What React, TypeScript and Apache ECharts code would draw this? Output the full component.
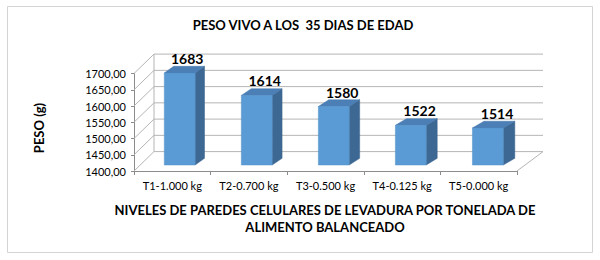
import React, { useEffect, useRef } from 'react';
import * as echarts from 'echarts';

const categories = ['T1-1.000 kg', 'T2-0.700 kg', 'T3-0.500 kg', 'T4-0.125 kg', 'T5-0.000 kg'];
const pesoValues = [1683, 1614, 1580, 1522, 1514];
const yTicks = [1400, 1450, 1500, 1550, 1600, 1650, 1700];
const Y_MIN = 1400;
const Y_MAX = 1700;
const Y_STEP = 50;

const chartTitle = 'PESO VIVO A LOS  35 DIAS DE EDAD';
const yTitle = 'PESO (g)';
const xTitleLines = ['NIVELES DE PAREDES CELULARES DE LEVADURA POR TONELADA DE', 'ALIMENTO BALANCEADO'];

const FONT = 'Lato, "Open Sans", sans-serif';
const DX0 = 20;
const DX1 = 26;
const DY = 19.4;
const GRID_COLOR = '#b5b5b5';
const AXIS_COLOR = '#8c8c8c';

function proj(cs: any, u: number, y: number, d: number): number[] {
  return [cs.x + u * cs.width + d * (DX0 + (DX1 - DX0) * u), y - d * DY];
}

export default function App() {
  const ref = useRef<HTMLDivElement>(null);
  useEffect(() => {
    const chart = echarts.init(ref.current!, null, { renderer: 'svg' });
    const n = categories.length;

    const wallRender = (params: any, api: any) => {
      const cs = params.coordSys;
      const v = api.value(1);
      const y = api.coord([0, v])[1];
      const children: any[] = [];
      const a = proj(cs, 0, y, 0);
      const b = proj(cs, 0, y, 1);
      const c = proj(cs, 1, y, 1);
      children.push({
        type: 'polyline',
        shape: { points: [a, b, c] },
        style: { stroke: GRID_COLOR, lineWidth: 1, fill: null },
        silent: true,
      });
      if (v === Y_MIN) {
        const yTop = api.coord([0, Y_MAX])[1];
        const bt = proj(cs, 0, yTop, 1);
        children.push({
          type: 'line',
          shape: { x1: b[0], y1: b[1], x2: bt[0], y2: bt[1] },
          style: { stroke: GRID_COLOR, lineWidth: 1 },
          silent: true,
        });
        const f = proj(cs, 1, y, 0);
        children.push({
          type: 'line',
          shape: { x1: f[0], y1: f[1], x2: c[0], y2: c[1] },
          style: { stroke: GRID_COLOR, lineWidth: 1 },
          silent: true,
        });
      }
      return { type: 'group', children };
    };

    const barRender = (params: any, api: any) => {
      const cs = params.coordSys;
      const i = api.value(0);
      const v = api.value(1);
      const yTop = api.coord([i, v])[1] - 6;
      const yBase = api.coord([i, Y_MIN])[1] - 6;
      const uC = (i + 0.5) / n;
      const half = 0.2 / n;
      const uL = uC - half;
      const uR = uC + half;
      const xAt = (u: number) => cs.x + u * cs.width + 0.36 * (DX0 + (DX1 - DX0) * u);
      const sx = 0.45 * (DX0 + (DX1 - DX0) * uR);
      const sy = 6.7;
      const xl = xAt(uL);
      const xr = xAt(uR);
      const front = [[xl, yTop], [xr, yTop], [xr, yBase], [xl, yBase]];
      const side = [[xr, yTop], [xr + sx, yTop - sy], [xr + sx, yBase - sy], [xr, yBase]];
      const top = [[xl, yTop], [xr, yTop], [xr + sx, yTop - sy], [xl + sx, yTop - sy]];
      return {
        type: 'group',
        children: [
          { type: 'polygon', shape: { points: side }, style: { fill: '#3c6893', stroke: '#36618a', lineWidth: 0.5 } },
          { type: 'polygon', shape: { points: top }, style: { fill: '#4b7fb6', stroke: '#4577ab', lineWidth: 0.5 } },
          { type: 'polygon', shape: { points: front }, style: { fill: '#5b9bd5', stroke: '#5290c9', lineWidth: 0.5 } },
          {
            type: 'text',
            style: {
              text: String(v),
              x: (xl + xr) / 2 + 0.8 * sx,
              y: yTop - 14.5,
              align: 'center',
              verticalAlign: 'middle',
              fontFamily: FONT,
              fontWeight: 'bold',
              fontSize: 14,
              fill: '#000',
            },
          },
        ],
      };
    };

    const option: any = {
      animation: false,
      backgroundColor: '#fff',
      grid: { left: 134, right: 83, top: 73.5, bottom: 89, containLabel: false },
      xAxis: {
        type: 'category',
        data: categories,
        boundaryGap: true,
        axisLine: { show: true, lineStyle: { color: AXIS_COLOR, width: 1 } },
        axisTick: { show: true, length: 4, interval: 0, alignWithLabel: false, lineStyle: { color: AXIS_COLOR } },
        axisLabel: { color: '#000', fontFamily: FONT, fontSize: 11, margin: 9, interval: 0 },
        splitLine: { show: false },
      },
      yAxis: {
        type: 'value',
        min: Y_MIN,
        max: Y_MAX,
        interval: Y_STEP,
        axisLine: { show: true, lineStyle: { color: AXIS_COLOR, width: 1 } },
        axisTick: { show: true, length: 3, lineStyle: { color: AXIS_COLOR } },
        axisLabel: {
          color: '#000',
          fontFamily: FONT,
          fontSize: 11,
          margin: 8,
          formatter: (val: number) => val.toFixed(2).replace('.', ','),
        },
        splitLine: { show: false },
      },
      graphic: [
        {
          type: 'rect',
          shape: { x: 7.5, y: 6.5, width: 585, height: 246 },
          style: { fill: 'none', stroke: '#d4d4d4', lineWidth: 1 },
          silent: true,
        },
        {
          type: 'text',
          x: 303,
          y: 25,
          style: {
            text: chartTitle,
            align: 'center',
            verticalAlign: 'middle',
            fontFamily: FONT,
            fontWeight: 'bold',
            fontSize: 13,
            fill: '#000',
          },
        },
        {
          type: 'text',
          x: 39,
          y: 128,
          rotation: Math.PI / 2,
          style: {
            text: yTitle,
            align: 'center',
            verticalAlign: 'middle',
            fontFamily: FONT,
            fontWeight: 'bold',
            fontSize: 13,
            fill: '#000',
          },
        },
        ...xTitleLines.map((t, k) => ({
          type: 'text',
          x: 325,
          y: 210 + k * 17,
          style: {
            text: t,
            align: 'center',
            verticalAlign: 'middle',
            fontFamily: FONT,
            fontWeight: 'bold',
            fontSize: 13,
            fill: '#000',
          },
        })),
      ],
      series: [
        {
          type: 'custom',
          name: 'walls',
          renderItem: wallRender,
          data: yTicks.map((v) => [0, v]),
          z: 1,
          silent: true,
        },
        {
          type: 'custom',
          name: 'PESO',
          renderItem: barRender,
          data: pesoValues.map((v, i) => [i, v]),
          z: 3,
        },
      ],
    };
    chart.setOption(option);
    return () => chart.dispose();
  }, []);
  return (
    <div
      ref={ref}
      style={{ position: 'absolute', left: 0, top: 0, width: 600, height: 260, background: '#fff' }}
    />
  );
}
